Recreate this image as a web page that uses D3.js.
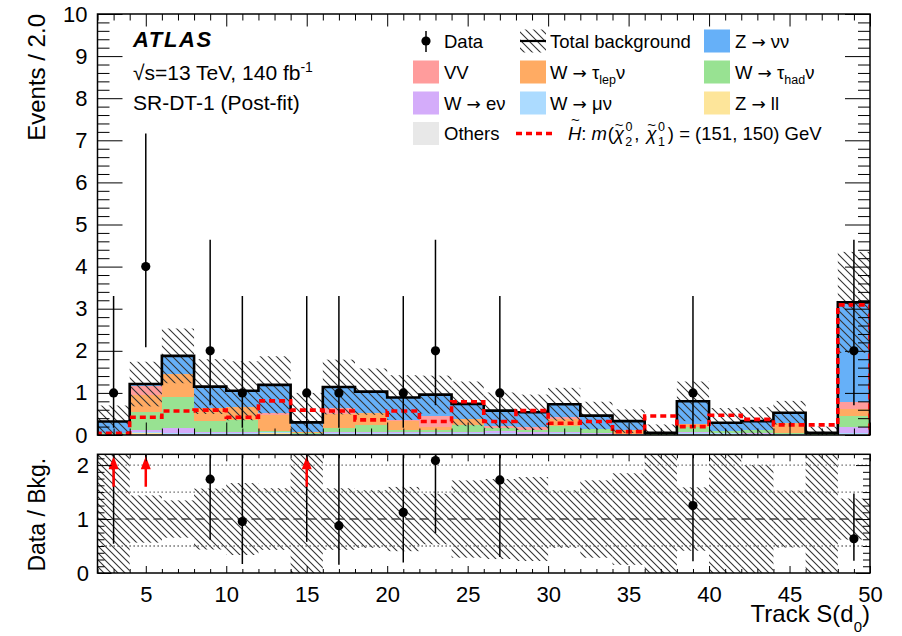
<!DOCTYPE html>
<html>
<head>
<meta charset="utf-8">
<script src="https://cdn.jsdelivr.net/npm/d3@7"></script>
<style>
  body { margin: 0; background: #fff; }
  svg { display: block; font-family: "Liberation Sans", Arial, Helvetica, sans-serif; }
</style>
</head>
<body>
<svg id="chart" width="902" height="636"></svg>
<script>
// ---- Binning and tick labels ----
const binEdges = [2,4,6,8,10,12,14,16,18,20,22,24,26,28,30,32,34,36,38,40,42,44,46,48,50];
const xTickLabels = [5,10,15,20,25,30,35,40,45,50];
const yTickLabels = [0,1,2,3,4,5,6,7,8,9,10];
const ratioTickLabels = [0,1,2];

// ---- Post-fit background yields per bin (stacked bottom -> top) ----
const others  = [0.01,0.03,0.02,0.02,0.02,0.02,0.01,0.02,0.02,0.02,0.02,0.02,0.02,0.01,0.02,0.01,0.01,0.01,0.02,0.02,0.01,0.01,0.01,0.02];
const zll     = [0,0.01,0,0,0,0.02,0,0,0,0,0,0,0,0,0,0,0,0,0,0,0,0,0,0];
const wmunu   = [0.01,0.03,0.02,0.02,0.02,0.02,0.02,0.02,0.02,0.02,0.02,0.02,0.02,0.02,0.02,0.02,0.01,0,0.02,0.02,0.02,0.01,0,0.02];
const wenu    = [0,0.04,0.12,0.04,0.04,0.02,0,0.02,0.02,0.02,0.02,0.02,0.06,0.03,0.02,0.01,0.01,0,0.02,0.01,0.01,0,0,0.14];
const wtauhad = [0.02,0.43,0.74,0.25,0.27,0.02,0.02,0.10,0.18,0.07,0.07,0.18,0.06,0.06,0.16,0.10,0,0.02,0.14,0.04,0.08,0.02,0.02,0.28];
const wtaulep = [0,0.40,0.56,0.30,0.32,0.38,0.03,0.33,0.28,0.21,0.05,0.14,0,0,0.16,0,0.08,0,0.06,0,0,0.24,0,0.16];
const vv      = [0,0.22,0,0,0,0.04,0,0.14,0,0.02,0.28,0,0.06,0.08,0.04,0,0.01,0,0,0,0,0,0,0.16];
const znunu   = [0.28,0.05,0.42,0.52,0.38,0.67,0.22,0.51,0.51,0.53,0.50,0.36,0.36,0.34,0.31,0.32,0.21,0.02,0.54,0.20,0.21,0.25,0.02,2.37];

// Total background uncertainty (absolute)
const bkgErr  = [0.38,0.53,0.65,0.65,0.70,0.68,0.70,0.65,0.55,0.53,0.45,0.53,0.43,0.42,0.39,0.33,0.28,0.20,0.47,0.35,0.33,0.28,0.15,1.2];

// Signal: Higgsino m(chi2, chi1) = (151, 150) GeV
const signal  = [0.04,0.42,0.57,0.59,0.42,0.81,0.59,0.57,0.36,0.57,0.32,0.79,0.32,0.58,0.28,0.32,0.08,0.45,0.20,0.47,0.37,0.24,0.24,3.09];

// Observed events and their Poisson interval bounds
const dataCounts = [1,4,0,2,1,0,1,1,0,1,2,0,1,0,0,0,0,0,1,0,0,0,0,2];
const dataLow    = [0.173,2.086,0,0.708,0.173,0,0.173,0.173,0,0.173,0.708,0,0.173,0,0,0,0,0,0.173,0,0,0,0,0.708];
const dataHigh   = [3.300,7.163,0,4.638,3.300,0,3.300,3.300,0,3.300,4.638,0,3.300,0,0,0,0,0,3.300,0,0,0,0,4.638];

// ---- Process styling ----
const processKeys = ["others","zll","wmunu","wenu","wtauhad","wtaulep","vv","znunu"];
const processColor = {
  others: "#e8e8e8", zll: "#fde59a", wmunu: "#acdbff", wenu: "#d4acfa",
  wtauhad: "#98e292", wtaulep: "#ffab63", vv: "#ff9c9c", znunu: "#66b0f8"
};
const processValues = { others, zll, wmunu, wenu, wtauhad, wtaulep, vv, znunu };

const rows = binEdges.slice(0, -1).map((lo, i) => {
  const r = { lo, hi: binEdges[i + 1] };
  processKeys.forEach(k => r[k] = processValues[k][i]);
  return r;
});
const total = rows.map(r => d3.sum(processKeys, k => r[k]));

// ---- Geometry ----
const X0 = 97.5, X1 = 870;
const x  = d3.scaleLinear().domain([2, 50]).range([X0, X1]);
const y  = d3.scaleLinear().domain([0, 10]).range([435, 14]);
const yr = d3.scaleLinear().domain([0, 2.2]).range([573, 454.3]);

const svg = d3.select("#chart");
const defs = svg.append("defs");

function hatch(id, step) {
  const p = defs.append("pattern").attr("id", id)
    .attr("patternUnits", "userSpaceOnUse").attr("width", step).attr("height", step);
  p.append("path")
    .attr("d", `M-1,-1L${step + 1},${step + 1}M${-step / 2 - 1},${step / 2 - 1}L${step / 2 + 1},${step * 1.5 + 1}M${step / 2 - 1},${-step / 2 - 1}L${step * 1.5 + 1},${step / 2 + 1}`)
    .attr("stroke", "#333").attr("stroke-width", 1.1).attr("fill", "none");
}
hatch("hatchMain", 8);
hatch("hatchRatio", 7);

defs.append("clipPath").attr("id", "clipMain").append("rect")
  .attr("x", X0).attr("y", y(10)).attr("width", X1 - X0).attr("height", y(0) - y(10));
defs.append("clipPath").attr("id", "clipRatio").append("rect")
  .attr("x", X0).attr("y", yr(2.2)).attr("width", X1 - X0).attr("height", yr(0) - yr(2.2));

// ================= Main panel =================
const gMain = svg.append("g");
const plot = gMain.append("g").attr("clip-path", "url(#clipMain)");

const stacked = d3.stack().keys(processKeys)(rows);
stacked.forEach(series => {
  plot.append("g").attr("fill", processColor[series.key]).attr("shape-rendering", "crispEdges")
    .selectAll("rect").data(series.filter(d => d[1] - d[0] > 0)).join("rect")
    .attr("x", d => x(d.data.lo))
    .attr("width", d => x(d.data.hi) - x(d.data.lo))
    .attr("y", d => y(d[1]))
    .attr("height", d => y(d[0]) - y(d[1]));
});

// uncertainty band
plot.append("g").selectAll("rect").data(rows).join("rect")
  .attr("x", d => x(d.lo))
  .attr("width", d => x(d.hi) - x(d.lo))
  .attr("y", (d, i) => y(total[i] + bkgErr[i]))
  .attr("height", (d, i) => y(Math.max(0, total[i] - bkgErr[i])) - y(total[i] + bkgErr[i]))
  .attr("fill", "url(#hatchMain)");

function stepPoints(vals) {
  const pts = [[binEdges[0], 0]];
  vals.forEach((v, i) => { pts.push([binEdges[i], v]); pts.push([binEdges[i + 1], v]); });
  pts.push([binEdges[binEdges.length - 1], 0]);
  return pts;
}
const stepLine = d3.line().x(d => x(d[0])).y(d => y(d[1]));

plot.append("path").attr("d", stepLine(stepPoints(total)))
  .attr("fill", "none").attr("stroke", "#000").attr("stroke-width", 2.6);

plot.append("path").attr("d", stepLine(stepPoints(signal)))
  .attr("fill", "none").attr("stroke", "#ff0000").attr("stroke-width", 3.6)
  .attr("stroke-dasharray", "6,4");

// data
const dataIdx = dataCounts.map((n, i) => i).filter(i => dataCounts[i] > 0);
const mid = i => (binEdges[i] + binEdges[i + 1]) / 2;
const gData = plot.append("g");
gData.selectAll("line").data(dataIdx).join("line")
  .attr("x1", i => x(mid(i))).attr("x2", i => x(mid(i)))
  .attr("y1", i => y(dataLow[i])).attr("y2", i => y(dataHigh[i]))
  .attr("stroke", "#000").attr("stroke-width", 1.5);
gData.selectAll("circle").data(dataIdx).join("circle")
  .attr("cx", i => x(mid(i))).attr("cy", i => y(dataCounts[i])).attr("r", 4.6).attr("fill", "#000");

// axes of main panel
const yMinor = d3.range(0, 10.001, 0.2).filter(v => Math.abs(v - Math.round(v)) > 1e-6);
const xMinor = d3.range(2, 50.001, 1).filter(v => v % 5 !== 0);

function styleAxis(g, fs) {
  g.select(".domain").remove();
  g.selectAll("line").attr("stroke", "#000").attr("stroke-width", 1);
  g.attr("font-family", null).attr("font-size", fs || null);
  g.selectAll("text").attr("fill", "#000");
}
gMain.append("g").attr("transform", `translate(${X0},0)`)
  .call(d3.axisLeft(y).tickValues(yTickLabels).tickSize(-25).tickPadding(10).tickFormat(d3.format("d")))
  .call(g => styleAxis(g, 22));
gMain.append("g").attr("transform", `translate(${X0},0)`)
  .call(d3.axisLeft(y).tickValues(yMinor).tickSize(-12).tickFormat(""))
  .call(g => styleAxis(g));
gMain.append("g").attr("transform", `translate(${X1},0)`)
  .call(d3.axisRight(y).tickValues(yTickLabels).tickSize(-25).tickFormat(""))
  .call(g => styleAxis(g));
gMain.append("g").attr("transform", `translate(${X1},0)`)
  .call(d3.axisRight(y).tickValues(yMinor).tickSize(-12).tickFormat(""))
  .call(g => styleAxis(g));
[[d3.axisBottom, y(0)], [d3.axisTop, y(10)]].forEach(([ax, ty]) => {
  gMain.append("g").attr("transform", `translate(0,${ty})`)
    .call(ax(x).tickValues(xTickLabels).tickSize(-12.5).tickFormat(""))
    .call(g => styleAxis(g));
  gMain.append("g").attr("transform", `translate(0,${ty})`)
    .call(ax(x).tickValues(xMinor).tickSize(-6.5).tickFormat(""))
    .call(g => styleAxis(g));
});
gMain.append("rect").attr("x", X0).attr("y", y(10)).attr("width", X1 - X0).attr("height", y(0) - y(10))
  .attr("fill", "none").attr("stroke", "#000").attr("stroke-width", 1.5);

// ================= Ratio panel =================
const gRatio = svg.append("g");
const rplot = gRatio.append("g").attr("clip-path", "url(#clipRatio)");

rplot.append("g").selectAll("rect").data(rows).join("rect")
  .attr("x", d => x(d.lo))
  .attr("width", d => x(d.hi) - x(d.lo))
  .attr("y", (d, i) => yr(1 + bkgErr[i] / total[i]))
  .attr("height", (d, i) => yr(Math.max(0, 1 - bkgErr[i] / total[i])) - yr(1 + bkgErr[i] / total[i]))
  .attr("fill", "url(#hatchRatio)");

[0.5, 1.5, 2].forEach(v => {
  rplot.append("line").attr("x1", X0).attr("x2", X1).attr("y1", yr(v)).attr("y2", yr(v))
    .attr("stroke", "#555").attr("stroke-width", 1.3).attr("stroke-dasharray", "1.3,2.7");
});
rplot.append("line").attr("x1", X0).attr("x2", X1).attr("y1", yr(1)).attr("y2", yr(1))
  .attr("stroke", "#444").attr("stroke-width", 1.5).attr("stroke-dasharray", "9,5");

const ratio = dataCounts.map((n, i) => n / total[i]);
const inRange = dataIdx.filter(i => ratio[i] <= 2.2);
const overflow = dataIdx.filter(i => ratio[i] > 2.2);

rplot.append("g").selectAll("line").data(dataIdx).join("line")
  .attr("x1", i => x(mid(i))).attr("x2", i => x(mid(i)))
  .attr("y1", i => yr(dataLow[i] / total[i])).attr("y2", i => yr(Math.min(2.3, dataHigh[i] / total[i])))
  .attr("stroke", "#000").attr("stroke-width", 1.5);
rplot.append("g").selectAll("circle").data(inRange).join("circle")
  .attr("cx", i => x(mid(i))).attr("cy", i => yr(ratio[i])).attr("r", 4.6).attr("fill", "#000");

// arrows for points beyond the ratio range
const gArr = rplot.append("g").attr("fill", "#ff0000").attr("stroke", "#ff0000");
overflow.forEach(i => {
  const cx = x(mid(i));
  gArr.append("line").attr("x1", cx).attr("x2", cx).attr("y1", yr(1.6)).attr("y2", yr(2.0))
    .attr("stroke-width", 2.5);
  gArr.append("path").attr("stroke", "none")
    .attr("d", `M${cx - 5},${yr(2.2) + 15}L${cx},${yr(2.2) + 2}L${cx + 5},${yr(2.2) + 15}Z`);
});

const rMinor = d3.range(0, 2.2001, 0.125).filter(v => Math.abs(v - Math.round(v)) > 1e-6);
gRatio.append("g").attr("transform", `translate(${X0},0)`)
  .call(d3.axisLeft(yr).tickValues(ratioTickLabels).tickSize(-14).tickPadding(8.5).tickFormat(d3.format("d")))
  .call(g => styleAxis(g, 22));
gRatio.append("g").attr("transform", `translate(${X0},0)`)
  .call(d3.axisLeft(yr).tickValues(rMinor).tickSize(-7).tickFormat(""))
  .call(g => styleAxis(g));
gRatio.append("g").attr("transform", `translate(${X1},0)`)
  .call(d3.axisRight(yr).tickValues(ratioTickLabels).tickSize(-14).tickFormat(""))
  .call(g => styleAxis(g));
gRatio.append("g").attr("transform", `translate(${X1},0)`)
  .call(d3.axisRight(yr).tickValues(rMinor).tickSize(-7).tickFormat(""))
  .call(g => styleAxis(g));
gRatio.append("g").attr("transform", `translate(0,${yr(0)})`)
  .call(d3.axisBottom(x).tickValues(xTickLabels).tickSize(-7).tickPadding(13).tickFormat(d3.format("d")))
  .call(g => styleAxis(g, 22));
gRatio.append("g").attr("transform", `translate(0,${yr(0)})`)
  .call(d3.axisBottom(x).tickValues(xMinor).tickSize(-4).tickFormat(""))
  .call(g => styleAxis(g));
gRatio.append("g").attr("transform", `translate(0,${yr(2.2)})`)
  .call(d3.axisTop(x).tickValues(xTickLabels).tickSize(-7).tickFormat(""))
  .call(g => styleAxis(g));
gRatio.append("g").attr("transform", `translate(0,${yr(2.2)})`)
  .call(d3.axisTop(x).tickValues(xMinor).tickSize(-4).tickFormat(""))
  .call(g => styleAxis(g));
gRatio.append("rect").attr("x", X0).attr("y", yr(2.2)).attr("width", X1 - X0).attr("height", yr(0) - yr(2.2))
  .attr("fill", "none").attr("stroke", "#000").attr("stroke-width", 1.5);

// ================= Text =================
// Rich text: segments placed with relative shifts so the whole string stays one text chunk
function rich(sel, tx, ty, segs, fs, anchor) {
  const t = sel.append("text").attr("x", tx).attr("y", ty).attr("font-size", fs).attr("fill", "#000");
  if (anchor) t.attr("text-anchor", anchor);
  let cur = 0;
  segs.forEach(s => {
    const yo = s.yo || 0;
    const ts = t.append("tspan").text(s.t);
    if (yo !== cur) ts.attr("dy", yo - cur);
    cur = yo;
    if (s.fs) ts.attr("font-size", s.fs);
    if (s.it) ts.attr("font-style", "italic");
    if (s.ff) ts.attr("font-family", s.ff);
    if (s.dx) ts.attr("dx", s.dx);
  });
  return t;
}
const ARROW = { t: "\u2192", ff: "DejaVu Sans", fs: 17 };

// axis titles
svg.append("text").attr("transform", "translate(45,14) rotate(-90)")
  .attr("text-anchor", "end").attr("font-size", 24).text("Events / 2.0");
svg.append("text").attr("transform", `translate(45,${(yr(0) + yr(2.2)) / 2 + 1}) rotate(-90)`)
  .attr("text-anchor", "middle").attr("font-size", 23).text("Data / Bkg.");
rich(svg, X1, 622, [{ t: "Track S(d" }, { t: "0", fs: 15, yo: 10 }, { t: ")" }], 24, "end");

// ATLAS label
svg.append("text").attr("x", 133).attr("y", 47).attr("font-size", 22).attr("letter-spacing", 1.6)
  .attr("font-weight", "bold").attr("font-style", "italic").text("ATLAS");
rich(svg, 133, 80, [{ t: "\u221As=13 TeV, 140 fb" }, { t: "-1", fs: 14, yo: -8 }], 21);
svg.append("text").attr("x", 133).attr("y", 110).attr("font-size", 21).text("SR-DT-1 (Post-fit)");

// legend
const LFS = 18.5;
const rowY = [41, 72, 103, 133.5];
const colBox = [413, 520, 704];
const colText = [444, 550, 735];
const gLeg = svg.append("g");

function legBox(col, row, color) {
  gLeg.append("rect").attr("x", colBox[col]).attr("y", rowY[row] - 11.5)
    .attr("width", 26).attr("height", 23).attr("fill", color);
}
function legText(col, row, segs) {
  rich(gLeg, colText[col], rowY[row] + 6.5, segs, LFS);
}
const sub = s => ({ t: s, fs: 12.5, yo: 5 });
const sp = { t: " " };

// Data
gLeg.append("line").attr("x1", 426).attr("x2", 426).attr("y1", rowY[0] - 10).attr("y2", rowY[0] + 11)
  .attr("stroke", "#000").attr("stroke-width", 1.5);
gLeg.append("circle").attr("cx", 426).attr("cy", rowY[0]).attr("r", 4.6).attr("fill", "#000");
legText(0, 0, [{ t: "Data" }]);

// Total background
gLeg.append("rect").attr("x", colBox[1]).attr("y", rowY[0] - 11.5).attr("width", 26).attr("height", 23)
  .attr("fill", "url(#hatchMain)");
gLeg.append("line").attr("x1", colBox[1]).attr("x2", colBox[1] + 26).attr("y1", rowY[0]).attr("y2", rowY[0])
  .attr("stroke", "#000").attr("stroke-width", 2.2);
legText(1, 0, [{ t: "Total background" }]);

legBox(2, 0, processColor.znunu);   legText(2, 0, [{ t: "Z " }, ARROW, { t: " \u03BD\u03BD" }]);
legBox(0, 1, processColor.vv);      legText(0, 1, [{ t: "VV" }]);
legBox(1, 1, processColor.wtaulep); legText(1, 1, [{ t: "W " }, ARROW, { t: " \u03C4" }, sub("lep"), { t: "\u03BD" }]);
legBox(2, 1, processColor.wtauhad); legText(2, 1, [{ t: "W " }, ARROW, { t: " \u03C4" }, sub("had"), { t: "\u03BD" }]);
legBox(0, 2, processColor.wenu);    legText(0, 2, [{ t: "W " }, ARROW, { t: " e\u03BD" }]);
legBox(1, 2, processColor.wmunu);   legText(1, 2, [{ t: "W " }, ARROW, { t: " \u03BC\u03BD" }]);
legBox(2, 2, processColor.zll);     legText(2, 2, [{ t: "Z " }, ARROW, { t: " ll" }]);
legBox(0, 3, processColor.others);  legText(0, 3, [{ t: "Others" }]);

// signal
gLeg.append("line").attr("x1", 516).attr("x2", 552).attr("y1", rowY[3]).attr("y2", rowY[3])
  .attr("stroke", "#ff0000").attr("stroke-width", 3.6).attr("stroke-dasharray", "6,4");
const tilde = (dx, yo) => ({ t: "~", fs: 15, dx, yo });
rich(gLeg, 568, rowY[3] + 6.5, [
  { t: "H", it: 1 }, tilde(-10.5, -15), { t: ": ", dx: 1.5 }, { t: "m", it: 1 }, { t: "(", dx: 1 },
  { t: "\u03C7", it: 1 }, tilde(-9.5, -10), { t: "0", fs: 12.5, yo: -9, dx: 2 }, { t: "2", fs: 12.5, dx: -7, yo: 6 },
  { t: ", ", dx: 2 },
  { t: "\u03C7", it: 1, dx: 2 }, tilde(-9.5, -10), { t: "0", fs: 12.5, yo: -9, dx: 2 }, { t: "1", fs: 12.5, dx: -7, yo: 6 },
  { t: ") = (151, 150) GeV", dx: 3 }
], LFS);
</script>
</body>
</html>
